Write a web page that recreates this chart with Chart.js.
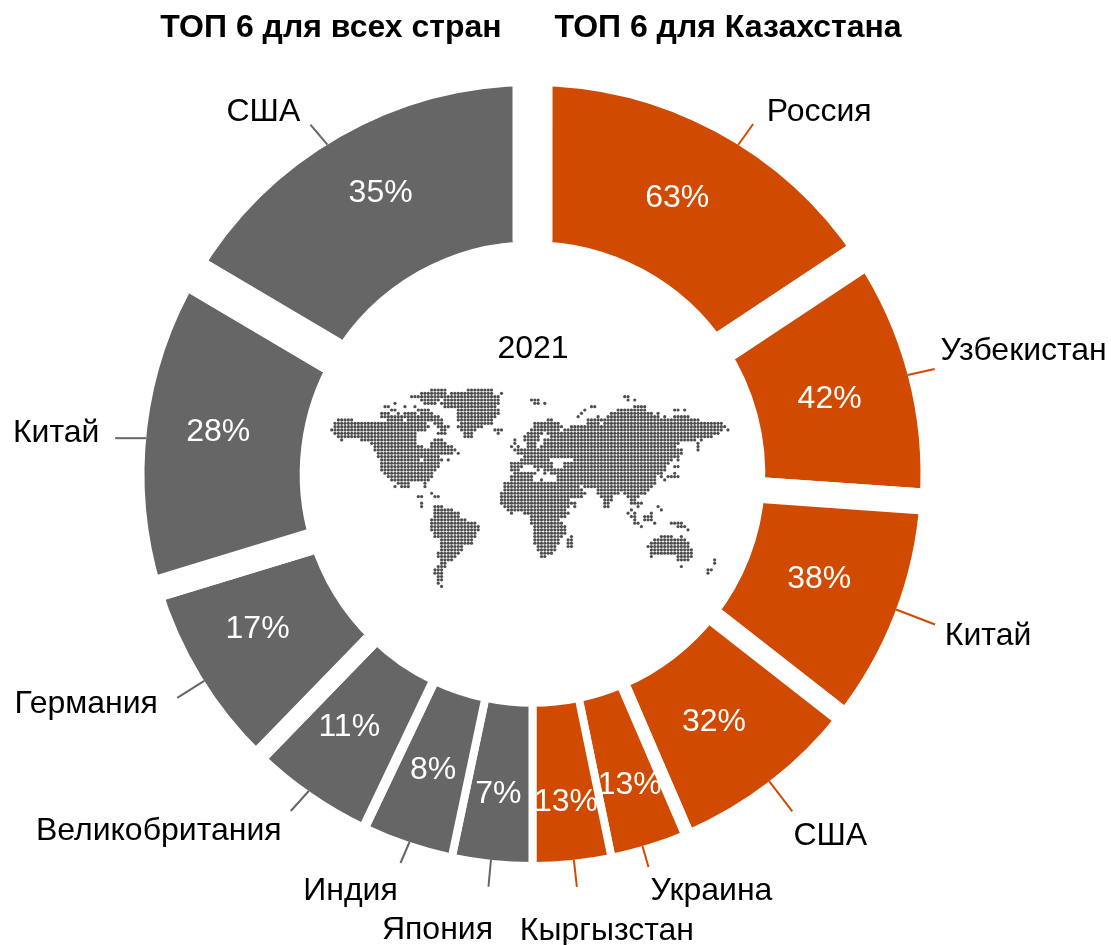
<!DOCTYPE html>
<html lang="ru">
<head>
<meta charset="utf-8">
<style>
  html, body { margin: 0; padding: 0; background: #fff; }
  canvas { display: block; }
</style>
<script src="https://cdn.jsdelivr.net/npm/chart.js@4"></script>
</head>
<body>
<canvas id="chart" width="1111" height="945"></canvas>
<script>
const kazNames = ['Россия', 'Узбекистан', 'Китай', 'США', 'Украина', 'Кыргызстан'];
const kazValues = [63, 42, 38, 32, 13, 13];
// clockwise from the bottom
const allNames = ['Япония', 'Индия', 'Великобритания', 'Германия', 'Китай', 'США'];
const allValues = [7, 8, 11, 17, 28, 35];
const titles = ['ТОП 6 для всех стран', 'ТОП 6 для Казахстана'];
const yearLabel = '2021';

const ORANGE = '#D04A02';
const GREY = '#666666';
const FONT = '"Liberation Sans", Arial, sans-serif';

// white gap widths in px, clockwise starting at 12 o'clock
const gapWidths = [40, 33, 26, 20, 13, 8, 8, 8, 10, 18, 26, 38];

// per slice layout, clockwise from 12 o'clock
const pctNudge = [[-2,-2],[-3,4],[-3,-6],[-8,2],[4,15],[2,19],[-2,11],[0,2],[-6,-2],[-10,-7],[-6,-5],[2,-11]];
const leaderShift = [3.8, 0, -0.6, 0, 1, -0.3, 0.2, -0.2, 0.4, -0.8, -1.5, -2.2];
const leaderVec = [[15,-21],[27,-6],[39,15],[23,30],[6,21],[3,27],[-2.5,27],[-9,21],[-18,20],[-27,17],[-31,0],[-17,-20]];
const nameOffset = [[66,-12],[89,-18],[53,12],[38,25],[63,24],[30,44],[-51,43],[-50,28],[-132,20],[-91,6],[-59,-5],[-47,-12]];

// dotted world map, one string per row: column runs
const mapRows = [
  '30-34 41-48',
  '27-34 36-48 51',
  '24-34 35-50 88-89',
  '27-32 34-50 60-62 89 91',
  '19 28-31 33-50 61-62 64',
  '16-17 22 25 34-49 78-79 91-94',
  '18-19 26-29 38-50 76 86-94 103-104 106',
  '15-17 20 22-25 27-30 38-50 75 84-96 98',
  '15-16 17-21 22-24 25-32 38-49 74 80 83-98 100 103-107',
  '2-6 17-21 23-33 38-48 65-66 77-81 82-110',
  '1-28 31-33 39-48 61-68 77-80 82-117',
  '1-29 32-35 38-45 61-69 72-118',
  '0-28 33-34 39-43 49-51 60-64 65-68 70-117 119',
  '1-25 32-34 40-42 50 59-63 65-116',
  '2-25 40-42 58-62 66-114',
  '3 9-25 31-33 55 58-62 64-66 67-109 111',
  '12-25 30-34 55 59-61 64-104 110',
  '13-27 30-36 54 56 59-61 63-103 110',
  '13-29 30-37 55-57 58-105 110',
  '14-36 38 56-105',
  '14-27 28-32 58-104',
  '15-26 28-33 35 57-65 73-102 104',
  '15-32 54-57 58-66 70-101',
  '15-32 54-57 61-66 70-73 74-100 103-104',
  '15-31 54-56 62 64 65-73 74-100',
  '16-30 55-61 64 66-73 74-99 103',
  '17-30 54-60 68-97 99 101-104',
  '18-29 54-60 63 68-97 100',
  '20-23 28 52-97',
  '19 21-23 28 52-70 71-74 76-96',
  '52-70 71-75 80-95',
  '30 51-70 71-76 80-86 88-94',
  '26-27 31-32 51-71 72-75 81-84 89-92',
  '51-71 82-84 90-91',
  '27 51-73 82-83 90-93',
  '27 31-33 52-71 73 82-83 92 98',
  '31-36 53-70 90 99',
  '31-38 54 58-71 89 91 96',
  '31-38 60-70 90-91 94-96',
  '30-40 60-68 91 94-96',
  '30-43 60-69 91-92 97 102-105',
  '30-44 61-70 93 104-106',
  '30-44 61-70 107',
  '31-43 61-70',
  '31-43 61-69 72 99-102 105',
  '33-42 61-68 71-72 97-106',
  '33-42 61-68 71-72 96-107',
  '33-39 62-67 71-72 95-107',
  '33-39 62-67 96-108',
  '32-38 63-66 96-100 101-108',
  '32-37 63-64 96 104-108',
  '33-36 104-107 115',
  '33-34 115',
  '32-34 105',
  '31-33 113-114',
  '31-33 113',
  '32-33',
  '32-33',
  '32',
  '33',
];

const sum = (list) => list.reduce((a, b) => a + b, 0);
const sliceNames = kazNames.concat(allNames);
const sliceValues = kazValues.concat(allValues);

// each half of the ring has its own 100%: shares are per side
const labels = [];
const shares = [];
const colors = [];
const borders = [];
sliceValues.forEach((v, i) => {
  const isKaz = i < kazValues.length;
  labels.push('', sliceNames[i]);
  shares.push(0.00001, v / sum(isKaz ? kazValues : allValues));
  colors.push('#ffffff', isKaz ? ORANGE : GREY);
  borders.push(gapWidths[i], 0);
});

const slicePlugin = {
  id: 'sliceText',
  afterDatasetsDraw(chart) {
    const ctx = chart.ctx;
    const arcs = chart.getDatasetMeta(0).data;

    // gaps go on top of both neighbours
    arcs.forEach((arc, i) => {
      if (i % 2 === 0) arc.draw(ctx);
    });

    ctx.save();
    ctx.textAlign = 'center';
    ctx.textBaseline = 'middle';

    sliceValues.forEach((v, i) => {
      const arc = arcs[i * 2 + 1];
      const color = i < kazValues.length ? ORANGE : GREY;
      const mid = (arc.startAngle + arc.endAngle) / 2 + leaderShift[i] * Math.PI / 180;
      const sx = arc.x + arc.outerRadius * Math.cos(mid);
      const sy = arc.y + arc.outerRadius * Math.sin(mid);
      const ex = sx + leaderVec[i][0];
      const ey = sy + leaderVec[i][1];

      ctx.strokeStyle = color;
      ctx.lineWidth = 2;
      ctx.beginPath();
      ctx.moveTo(sx, sy);
      ctx.lineTo(ex, ey);
      ctx.stroke();

      ctx.font = '32px ' + FONT;
      ctx.fillStyle = '#000000';
      ctx.fillText(sliceNames[i], ex + nameOffset[i][0], ey + nameOffset[i][1]);

      const c = arc.getCenterPoint();
      ctx.fillStyle = '#ffffff';
      ctx.fillText(v + '%', c.x + pctNudge[i][0], c.y + pctNudge[i][1]);
    });

    ctx.font = '32px ' + FONT;
    ctx.fillStyle = '#000000';
    ctx.fillText(yearLabel, 533, 349);

    ctx.font = 'bold 32px ' + FONT;
    ctx.fillText(titles[0], 331, 28);
    ctx.fillText(titles[1], 728, 28);

    ctx.fillStyle = '#4d4d4d';
    mapRows.forEach((row, r) => {
      row.split(' ').forEach((run) => {
        const [from, to] = run.split('-').map(Number);
        for (let c = from; c <= (to === undefined ? from : to); c++) {
          ctx.beginPath();
          ctx.arc(331.7 + c * 3.33, 390 + r * 3.33, 1.6, 0, Math.PI * 2);
          ctx.fill();
        }
      });
    });
    ctx.restore();
  },
};

new Chart(document.getElementById('chart').getContext('2d'), {
  type: 'doughnut',
  data: {
    labels: labels,
    datasets: [{
      data: shares,
      backgroundColor: colors,
      borderColor: '#ffffff',
      borderWidth: borders,
      hoverOffset: 0,
    }],
  },
  options: {
    responsive: false,
    animation: false,
    cutout: '60%',
    layout: {
      // ring radius loses half of the widest border, hence the extra room
      padding: { left: 124.5, right: 170.5, top: 66, bottom: 63 },
    },
    plugins: {
      legend: { display: false },
      tooltip: { enabled: false },
    },
    events: [],
  },
  plugins: [slicePlugin],
});
</script>
</body>
</html>
